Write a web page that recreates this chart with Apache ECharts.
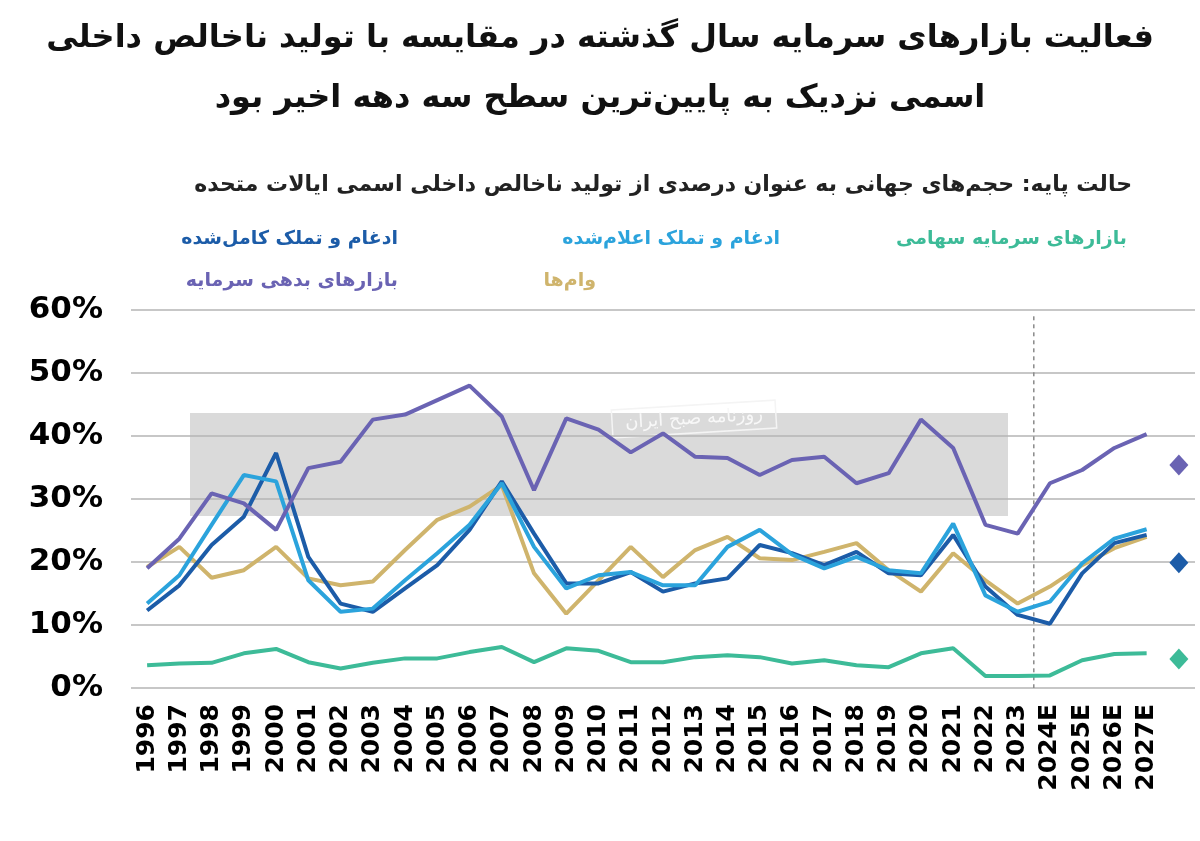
<!DOCTYPE html>
<html>
<head>
<meta charset="utf-8">
<script src="https://cdn.jsdelivr.net/npm/echarts@6/dist/echarts.min.js"></script>
<style>
  html, body { margin: 0; padding: 0; background: #ffffff; }
  #chart { width: 1200px; height: 841px; }
</style>
</head>
<body>
<div id="chart"></div>
<script>
// years on the x axis (last empty slot holds the baseline diamonds)
var years = ["1996", "1997", "1998", "1999", "2000", "2001", "2002", "2003", "2004", "2005",
  "2006", "2007", "2008", "2009", "2010", "2011", "2012", "2013", "2014", "2015",
  "2016", "2017", "2018", "2019", "2020", "2021", "2022", "2023", "2024E", "2025E",
  "2026E", "2027E", ""];

// % of US nominal GDP
var equityMarkets = [3.6, 3.9, 4.0, 5.5, 6.2, 4.1, 3.1, 4.0, 4.7, 4.7,
  5.7, 6.5, 4.1, 6.3, 5.9, 4.1, 4.1, 4.9, 5.2, 4.9,
  3.9, 4.4, 3.6, 3.3, 5.5, 6.3, 1.9, 1.9, 2.0, 4.4,
  5.4, 5.5];
var maAnnounced = [13.4, 17.9, 25.9, 33.8, 32.8, 17.1, 12.1, 12.6, 17.1, 21.4,
  25.9, 32.5, 22.4, 15.8, 17.9, 18.4, 16.3, 16.3, 22.4, 25.1,
  21.2, 19.0, 20.8, 18.7, 18.2, 26.1, 14.7, 12.1, 13.7, 19.8,
  23.7, 25.2];
var maCompleted = [12.3, 16.3, 22.7, 27.2, 37.3, 20.8, 13.4, 12.1, 15.8, 19.5,
  25.1, 32.8, 24.5, 16.6, 16.6, 18.4, 15.3, 16.6, 17.4, 22.7,
  21.4, 19.5, 21.6, 18.2, 17.9, 24.3, 16.1, 11.6, 10.2, 18.2,
  23.0, 24.3];
var loans = [19.2, 22.4, 17.5, 18.7, 22.4, 17.4, 16.3, 16.9, 21.9, 26.7,
  28.8, 32.2, 18.2, 11.8, 17.1, 22.4, 17.6, 21.9, 24.0, 20.6,
  20.3, 21.6, 23.0, 18.7, 15.3, 21.4, 17.1, 13.4, 16.1, 19.5,
  22.2, 24.0];
var debtMarkets = [19.0, 23.7, 30.9, 29.3, 25.1, 34.9, 35.9, 42.6, 43.4, 45.7,
  48.0, 43.1, 31.4, 42.8, 41.0, 37.4, 40.4, 36.7, 36.5, 33.8,
  36.2, 36.7, 32.5, 34.1, 42.6, 38.1, 25.9, 24.5, 32.5, 34.6,
  38.1, 40.3];

// diamonds at the right edge
var diamondDebt = 35.4;
var diamondCompleted = 19.9;
var diamondEquity = 4.6;

var yTicks = [0, 10, 20, 30, 40, 50, 60];

// forecast starts after this year
var lastActual = "2023";
var firstForecast = "2024E";

var colors = {
  equity: "#3dbb98",
  announced: "#2ba3dc",
  completed: "#1c5ca8",
  loans: "#cfb46c",
  debt: "#6a63b3"
};

var faFont = "DejaVu Sans";

// keep persian strings in an rtl run inside the ltr canvas
function rtl(s) {
  return "\u202B" + s + "\u202C";
}

function lineSeries(name, data, color) {
  return {
    name: name,
    type: "line",
    data: data,
    symbol: "none",
    smooth: false,
    lineStyle: { color: color, width: 4 },
    itemStyle: { color: color },
    z: 3
  };
}

function diamond(value, color) {
  var d = new Array(years.length - 1).fill("-");
  d.push(value);
  return {
    type: "scatter",
    symbol: "diamond",
    symbolSize: [19, 21],
    itemStyle: { color: color, opacity: 1 },
    data: d,
    z: 4
  };
}

var chart = echarts.init(document.getElementById("chart"));

var series = [
  lineSeries("بازارهای سرمایه سهامی", equityMarkets, colors.equity),
  lineSeries("وام‌ها", loans, colors.loans),
  lineSeries("ادغام و تملک کامل‌شده", maCompleted, colors.completed),
  lineSeries("ادغام و تملک اعلام‌شده", maAnnounced, colors.announced),
  lineSeries("بازارهای بدهی سرمایه", debtMarkets, colors.debt),
  diamond(diamondDebt, colors.debt),
  diamond(diamondCompleted, colors.completed),
  diamond(diamondEquity, colors.equity)
];

var titleFont = "bold 32px " + faFont;
var legendFont = "bold 19px " + faFont;

var option = {
  animation: false,
  backgroundColor: "#ffffff",
  textStyle: { fontFamily: faFont },
  grid: { left: 131, right: 5, top: 310, bottom: 153, containLabel: false },
  graphic: [
    {
      type: "rect",
      shape: { x: 190, y: 413, width: 818, height: 103 },
      style: { fill: "#dadada" },
      z: -10,
      silent: true
    },
    {
      type: "group",
      x: 694, y: 419,
      rotation: 0.06,
      z: -9,
      children: [
        { type: "rect", shape: { x: -82, y: -14, width: 164, height: 28 },
          style: { fill: "none", stroke: "#f4f4f4", lineWidth: 1.5 } },
        { type: "text", style: { text: rtl("روزنامه صبح ایران"), x: 0, y: 0,
          align: "center", verticalAlign: "middle", fill: "#f8f8f8",
          font: "18px " + faFont } }
      ]
    },
    {
      type: "text", left: "center", top: 23,
      style: { text: rtl("فعالیت بازارهای سرمایه سال گذشته در مقایسه با تولید ناخالص داخلی"),
        fill: "#111111", font: titleFont }
    },
    {
      type: "text", left: "center", top: 83,
      style: { text: rtl("اسمی نزدیک به پایین‌ترین سطح سه دهه اخیر بود"),
        fill: "#111111", font: titleFont }
    },
    {
      type: "text", right: 68, top: 174,
      style: { text: rtl("حالت پایه: حجم‌های جهانی به عنوان درصدی از تولید ناخالص داخلی اسمی ایالات متحده"),
        fill: "#222222", font: "bold 22px " + faFont }
    },
    {
      type: "text", right: 73, top: 230,
      style: { text: rtl("بازارهای سرمایه سهامی"), fill: colors.equity, font: legendFont }
    },
    {
      type: "text", right: 420, top: 230,
      style: { text: rtl("ادغام و تملک اعلام‌شده"), fill: colors.announced, font: legendFont }
    },
    {
      type: "text", right: 802, top: 230,
      style: { text: rtl("ادغام و تملک کامل‌شده"), fill: colors.completed, font: legendFont }
    },
    {
      type: "text", right: 604, top: 272,
      style: { text: rtl("وام‌ها"), fill: colors.loans, font: legendFont }
    },
    {
      type: "text", right: 802, top: 272,
      style: { text: rtl("بازارهای بدهی سرمایه"), fill: colors.debt, font: legendFont }
    }
  ],
  xAxis: {
    type: "category",
    data: years,
    boundaryGap: true,
    axisLine: { show: false },
    axisTick: { show: false },
    axisLabel: {
      rotate: 90,
      interval: 0,
      margin: 16,
      color: "#000000",
      fontFamily: faFont,
      fontWeight: "bold",
      fontSize: 25
    },
    splitLine: { show: false }
  },
  yAxis: {
    type: "value",
    min: yTicks[0],
    max: yTicks[yTicks.length - 1],
    interval: 10,
    axisLine: { show: false },
    axisTick: { show: false },
    axisLabel: {
      formatter: "{value}%",
      margin: 28,
      color: "#000000",
      fontFamily: faFont,
      fontWeight: "bold",
      fontSize: 31
    },
    splitLine: { lineStyle: { color: "#b4b4b4", width: 1.5 } }
  },
  series: series
};

chart.setOption(option);

// dashed divider between actual and forecast years, placed through the axis scale
var xa = chart.convertToPixel({ xAxisIndex: 0 }, lastActual);
var xb = chart.convertToPixel({ xAxisIndex: 0 }, firstForecast);
var yTop = chart.convertToPixel({ yAxisIndex: 0 }, 59);
var yBottom = chart.convertToPixel({ yAxisIndex: 0 }, 0);
var xm = (xa + xb) / 2;
option.graphic.push({
  type: "line",
  shape: { x1: xm, y1: yTop, x2: xm, y2: yBottom },
  style: { stroke: "#8a8a8a", lineWidth: 1.5, lineDash: [4, 4] },
  z: 1,
  silent: true
});
chart.setOption({ graphic: option.graphic });
</script>
</body>
</html>
